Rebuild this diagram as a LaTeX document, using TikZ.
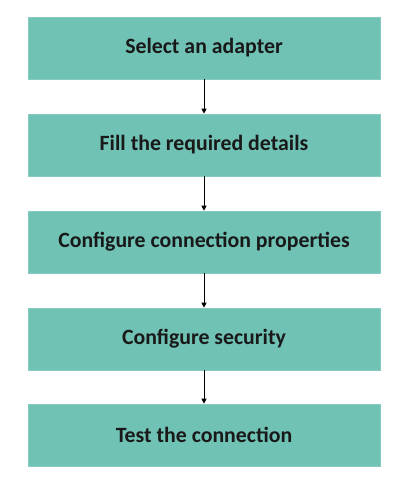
\documentclass[tikz,border=0pt]{standalone}
\usepackage{fontspec}
\setmainfont{Carlito}
\usetikzlibrary{arrows.meta}
\definecolor{boxfill}{HTML}{70C2B4}
\begin{document}
\begin{tikzpicture}[x=1pt,y=1pt,
  stepbox/.style={fill=boxfill,draw=boxfill!85!white,line width=0.6pt,minimum width=352pt,minimum height=62pt,inner sep=0pt,font=\bfseries\fontsize{21.8}{26}\selectfont,text=black!90},
  flow/.style={-{Triangle[length=5pt,width=5pt]},line width=1pt,black}]
\useasboundingbox (0,0) rectangle (407,-490);
\node[stepbox] (s1) at (204,-48) {Select an adapter};
\node[stepbox] (s2) at (204,-145) {Fill the required details};
\node[stepbox] (s3) at (204,-242) {Configure connection properties};
\node[stepbox] (s4) at (204,-339) {Configure security};
\node[stepbox] (s5) at (204,-435) {Test the connection};
\draw[flow] (s1) -- (s2);
\draw[flow] (s2) -- (s3);
\draw[flow] (s3) -- (s4);
\draw[flow] (s4) -- (s5);
\end{tikzpicture}
\end{document}
